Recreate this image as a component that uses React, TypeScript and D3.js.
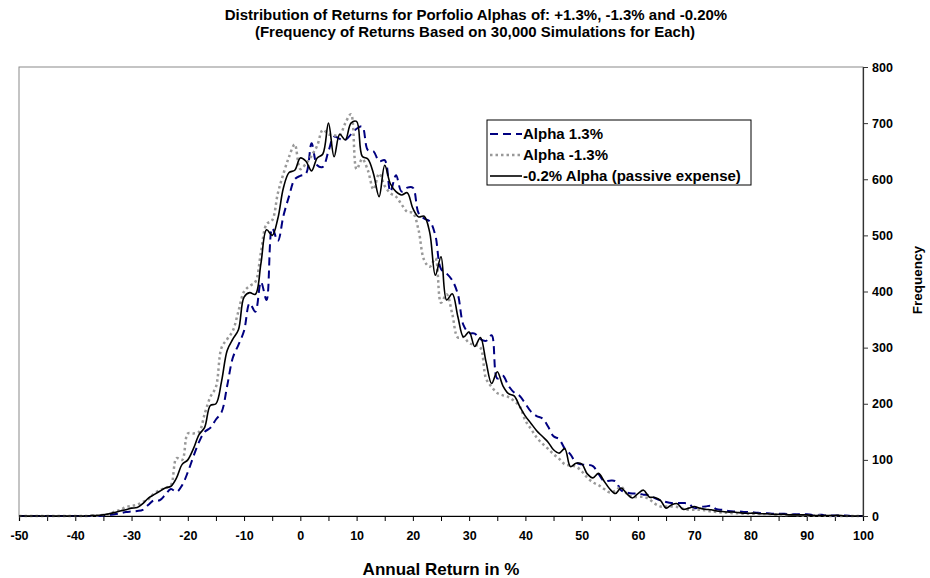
import { useEffect, useRef } from "react";
import * as d3 from "d3";

// bin centres of the histogram, annual return in %
const returns = d3.range(-50, 101, 1);

// frequency per bin (from -50 to 100)
const alphaPlus = [
  0, 0, 0, 0, 0, 0, 0, 0, 0, 0, // -50..-41
  0, 0, 0, 0, 0, 1, 2, 3, 5, 7, // -40..-31
  8, 9, 11, 20, 28, 28, 38, 48, 43, 55, // -30..-21
  78, 106, 132, 150, 157, 172, 185, 232, 282, 305, // -20..-11
  330, 379, 364, 417, 385, 513, 490, 535, 570, 600, // -10..-1
  606, 610, 664, 625, 622, 650, 676, 672, 670, 680, // 0..9
  690, 694, 652, 650, 632, 634, 578, 607, 578, 585, // 10..19
  585, 540, 530, 525, 500, 440, 432, 420, 395, 340, // 20..29
  326, 325, 315, 312, 322, 245, 250, 232, 220, 214, // 30..39
  200, 186, 178, 174, 160, 142, 137, 120, 110, 95, // 40..49
  92, 91, 89, 75, 62, 63, 62, 46, 42, 40, // 50..59
  40, 38, 37, 32, 28, 25, 23, 23, 23, 22, // 60..69
  14, 16, 17, 18, 12, 11, 9, 8, 8, 7, // 70..79
  7, 6, 5, 5, 4, 4, 4, 3, 3, 3, // 80..89
  3, 2, 2, 2, 1, 1, 1, 1, 0, 0, // 90..99
  0, // 100
];

const alphaMinus = [
  0, 0, 0, 0, 0, 0, 0, 0, 0, 0, // -50..-41
  0, 0, 0, 1, 1, 2, 3, 8, 11, 16, // -40..-31
  18, 20, 25, 30, 40, 46, 50, 55, 103, 100, // -30..-21
  147, 147, 150, 182, 212, 230, 300, 315, 330, 365, // -20..-11
  400, 410, 417, 470, 520, 527, 575, 610, 640, 662, // -10..-1
  618, 628, 642, 660, 688, 680, 678, 679, 700, 716, // 0..9
  618, 636, 616, 582, 610, 588, 575, 569, 555, 542, // 10..19
  540, 510, 456, 444, 459, 380, 395, 360, 318, 319, // 20..29
  308, 305, 300, 245, 230, 219, 215, 212, 205, 195, // 30..39
  170, 155, 140, 129, 120, 110, 102, 92, 90, 88, // 40..49
  80, 68, 60, 55, 48, 42, 45, 52, 40, 34, // 50..59
  34, 34, 30, 22, 17, 17, 17, 16, 13, 11, // 60..69
  11, 11, 10, 8, 7, 6, 6, 5, 5, 4, // 70..79
  4, 4, 3, 3, 3, 2, 2, 2, 2, 1, // 80..89
  1, 1, 1, 1, 0, 0, 0, 0, 0, 0, // 90..99
  0, // 100
];

const alphaPassive = [
  0, 0, 0, 0, 0, 0, 0, 0, 0, 0, // -50..-41
  0, 0, 0, 1, 1, 2, 4, 6, 9, 11, // -40..-31
  14, 15, 22, 32, 38, 44, 50, 53, 68, 92, // -30..-21
  100, 120, 145, 158, 197, 200, 240, 295, 315, 332, // -20..-11
  390, 398, 395, 450, 510, 500, 530, 585, 612, 616, // -10..-1
  638, 632, 615, 638, 645, 700, 640, 680, 670, 700, // 0..9
  703, 641, 636, 610, 569, 625, 592, 578, 572, 576, // 10..19
  548, 533, 534, 505, 429, 462, 385, 396, 355, 319, // 20..29
  328, 302, 318, 275, 236, 257, 232, 218, 214, 195, // 30..39
  178, 165, 152, 142, 132, 118, 112, 120, 88, 94, // 40..49
  93, 75, 68, 76, 62, 48, 40, 50, 40, 32, // 50..59
  40, 46, 34, 33, 28, 14, 20, 22, 12, 14, // 60..69
  17, 14, 12, 11, 9, 8, 7, 7, 6, 5, // 70..79
  5, 5, 4, 4, 3, 3, 3, 2, 2, 2, // 80..89
  2, 1, 1, 1, 1, 1, 1, 0, 0, 0, // 90..99
  0, // 100
];

const seriesNames = ["Alpha 1.3%", "Alpha -1.3%", "-0.2% Alpha (passive expense)"];
const xTicks = [-50, -40, -30, -20, -10, 0, 10, 20, 30, 40, 50, 60, 70, 80, 90, 100];
const yTicks = [0, 100, 200, 300, 400, 500, 600, 700, 800];

const styles = [
  { color: "#000080", width: 2, dash: "8,5" },
  { color: "#999999", width: 2.5, dash: "2.5,3" },
  { color: "#000000", width: 1.6, dash: null as string | null },
];

export default function App() {
  const svgRef = useRef<SVGSVGElement | null>(null);

  useEffect(() => {
    const width = 930;
    const height = 578;
    const margin = { top: 67, right: 67, bottom: 62, left: 19 };
    const font = "'Liberation Sans', Arial, sans-serif";

    const svg = d3.select(svgRef.current);
    svg.selectAll("*").remove();

    const x = d3
      .scaleLinear()
      .domain([-50, 100])
      .range([margin.left, width - margin.right]);

    const y = d3
      .scaleLinear()
      .domain([0, 800])
      .range([height - margin.bottom, margin.top]);

    // titles
    const title = svg
      .append("text")
      .attr("text-anchor", "middle")
      .style("font-family", font)
      .style("font-weight", "bold")
      .style("font-size", "15px");
    title.append("tspan").attr("x", 476).attr("y", 20).text(
      "Distribution of Returns for Porfolio Alphas of: +1.3%, -1.3% and -0.20%"
    );
    title.append("tspan").attr("x", 475).attr("y", 37).text(
      "(Frequency of Returns Based on 30,000 Simulations for Each)"
    );

    // plot frame
    svg
      .append("rect")
      .attr("x", margin.left)
      .attr("y", margin.top)
      .attr("width", width - margin.left - margin.right)
      .attr("height", height - margin.top - margin.bottom)
      .attr("fill", "none")
      .attr("stroke", "#8a8a8a")
      .attr("stroke-width", 1);

    // x axis
    const xAxis = svg
      .append("g")
      .attr("transform", `translate(0,${y(0)})`)
      .call(
        d3
          .axisBottom(x)
          .tickValues(d3.range(-50, 101, 5))
          .tickSize(5)
          .tickFormat((d) => (xTicks.includes(d as number) ? String(d) : ""))
      );
    xAxis.select(".domain").attr("stroke", "#000").attr("stroke-width", 1.2);
    xAxis.selectAll(".tick line").attr("stroke", "#000");
    xAxis
      .selectAll("text")
      .attr("y", 15)
      .style("font-family", font)
      .style("font-weight", "bold")
      .style("font-size", "12.5px")
      .attr("fill", "#000");

    // y axis on the right
    const yAxis = svg
      .append("g")
      .attr("transform", `translate(${x(100)},0)`)
      .call(d3.axisRight(y).tickValues(yTicks).tickSize(5).tickPadding(4));
    yAxis.select(".domain").attr("stroke", "#333").attr("stroke-width", 1.2);
    yAxis.selectAll(".tick line").attr("stroke", "#333");
    yAxis
      .selectAll("text")
      .style("font-family", font)
      .style("font-weight", "bold")
      .style("font-size", "12.5px")
      .attr("fill", "#000");

    svg
      .append("text")
      .attr("x", (x(-50) + x(100)) / 2)
      .attr("y", 575)
      .attr("text-anchor", "middle")
      .style("font-family", font)
      .style("font-weight", "bold")
      .style("font-size", "17px")
      .text("Annual Return in %");

    svg
      .append("text")
      .attr("transform", `translate(922,280) rotate(-90)`)
      .attr("text-anchor", "middle")
      .style("font-family", font)
      .style("font-weight", "bold")
      .style("font-size", "13.5px")
      .text("Frequency");

    // lines
    const line = d3
      .line<number>()
      .x((_, i) => x(returns[i]))
      .y((d) => y(d))
      .curve(d3.curveCatmullRom.alpha(0.5));

    [alphaPlus, alphaMinus, alphaPassive].forEach((values, i) => {
      const s = styles[i];
      svg
        .append("path")
        .datum(values)
        .attr("d", line)
        .attr("fill", "none")
        .attr("stroke", s.color)
        .attr("stroke-width", s.width)
        .attr("stroke-dasharray", s.dash)
        .attr("stroke-linejoin", "round");
    });

    // legend
    const legend = svg.append("g").attr("transform", "translate(487,120)");
    legend
      .append("rect")
      .attr("width", 264)
      .attr("height", 65)
      .attr("fill", "#fff")
      .attr("stroke", "#000")
      .attr("stroke-width", 1);

    seriesNames.forEach((name, i) => {
      const s = styles[i];
      const cy = 14 + i * 21;
      legend
        .append("line")
        .attr("x1", 3)
        .attr("x2", 35)
        .attr("y1", cy)
        .attr("y2", cy)
        .attr("stroke", s.color)
        .attr("stroke-width", s.width)
        .attr("stroke-dasharray", s.dash);
      legend
        .append("text")
        .attr("x", 36)
        .attr("y", cy + 5)
        .style("font-family", font)
        .style("font-weight", "bold")
        .style("font-size", "15px")
        .text(name);
    });
  }, []);

  return (
    <svg
      ref={svgRef}
      width={930}
      height={578}
      style={{ position: "absolute", left: 0, top: 0, background: "#fff" }}
    />
  );
}
